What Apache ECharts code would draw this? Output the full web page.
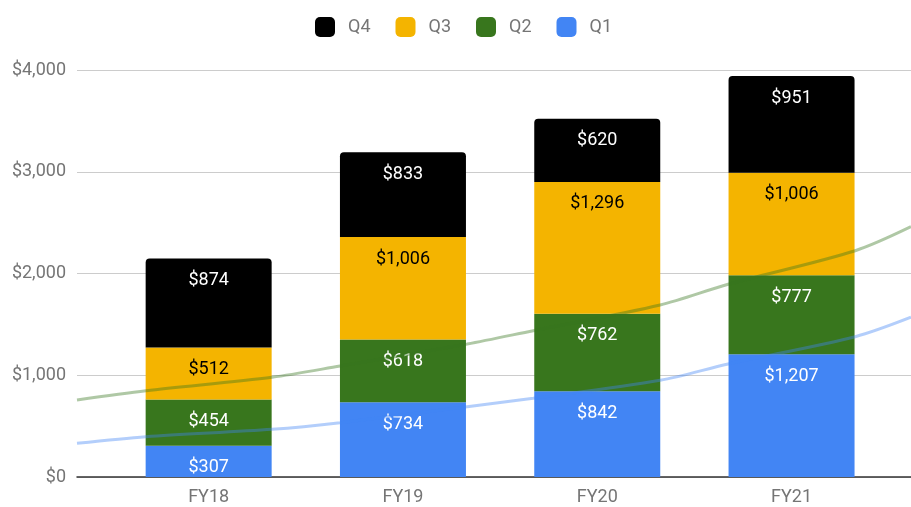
<!DOCTYPE html>
<html>
<head>
<meta charset="utf-8">
<script src="https://cdn.jsdelivr.net/npm/echarts@6/dist/echarts.min.js"></script>
<style>
  html, body { margin: 0; padding: 0; background: #fff; }
  #chart { width: 911px; height: 507px; }
</style>
</head>
<body>
<div id="chart"></div>
<script>
const categories = ['FY18', 'FY19', 'FY20', 'FY21'];
const q1 = [307, 734, 842, 1207];
const q2 = [454, 618, 762, 777];
const q3 = [512, 1006, 1296, 1006];
const q4 = [874, 833, 620, 951];

// trend lines, x in category-index units
const trendX = [-0.678, -0.323, 0.326, 0.676, 1.33, 1.67, 2.323, 2.673, 3.327, 3.614];
const trendQ2 = [757, 848, 980, 1091, 1307, 1438, 1690, 1894, 2224, 2460];
const trendQ1 = [331, 396, 469, 534, 691, 773, 950, 1111, 1379, 1570];

const yTicks = [0, 1000, 2000, 3000, 4000];

const money = v => '$' + v.toLocaleString('en-US');
const trendPairs = arr => arr.map((v, i) => [trendX[i], v]);

const chart = echarts.init(document.getElementById('chart'));

const barSeries = (name, data, color, labelColor, radius) => ({
  name: name,
  type: 'bar',
  stack: 'total',
  xAxisIndex: 1,
  yAxisIndex: 1,
  barWidth: 126,
  data: data,
  z: 2,
  itemStyle: { color: color, borderRadius: radius || 0 },
  label: {
    show: true,
    position: 'insideTop',
    distance: 13,
    color: labelColor,
    fontSize: 18,
    fontFamily: 'Roboto',
    formatter: p => money(p.value),
  },
});

const trendSeries = (name, data, color) => ({
  name: name,
  type: 'line',
  data: trendPairs(data),
  smooth: 0.3,
  symbol: 'none',
  silent: true,
  z: 5,
  lineStyle: { color: color, width: 3 },
});

const option = {
  animation: false,
  textStyle: { fontFamily: 'Roboto' },
  legend: {
    data: ['Q4', 'Q3', 'Q2', 'Q1'],
    left: 310,
    top: 12,
    icon: 'roundRect',
    itemWidth: 20,
    itemHeight: 20,
    itemGap: 25,
    textStyle: { fontSize: 18, color: '#757575', padding: [0, 0, 0, 8] },
  },
  grid: [
    { left: 77, right: 0, top: 70, bottom: 30 },
    { left: 111.5, right: 22.3, top: 70, bottom: 30 },
  ],
  xAxis: [
    {
      type: 'value',
      gridIndex: 0,
      min: trendX[0],
      max: trendX[trendX.length - 1],
      splitLine: { show: false },
      axisTick: { show: false },
      axisLabel: { show: false },
      axisLine: { show: true, onZero: true, lineStyle: { color: '#333', width: 1.5 } },
    },
    {
      type: 'category',
      gridIndex: 1,
      data: categories,
      axisLine: { show: false },
      axisTick: { show: false },
      axisLabel: { color: '#757575', fontSize: 18, margin: 11 },
    },
  ],
  yAxis: [
    {
      type: 'value',
      gridIndex: 0,
      min: yTicks[0],
      max: yTicks[yTicks.length - 1],
      interval: 1000,
      axisLine: { show: false },
      axisTick: { show: false },
      splitLine: { lineStyle: { color: '#cccccc' } },
      axisLabel: {
        formatter: v => money(v),
        color: '#757575',
        fontSize: 18,
        margin: 11,
      },
    },
    {
      type: 'value',
      gridIndex: 1,
      min: yTicks[0],
      max: yTicks[yTicks.length - 1],
      interval: 1000,
      show: false,
    },
  ],
  series: [
    barSeries('Q1', q1, '#4285F4', '#fff'),
    barSeries('Q2', q2, '#38761D', '#fff'),
    barSeries('Q3', q3, '#F4B400', '#000'),
    barSeries('Q4', q4, '#000000', '#fff', [4, 4, 0, 0]),
    trendSeries('Trend Q2', trendQ2, 'rgba(56,118,29,0.4)'),
    trendSeries('Trend Q1', trendQ1, 'rgba(66,133,244,0.4)'),
  ],
};

chart.setOption(option);
window.addEventListener('resize', () => chart.resize());
</script>
</body>
</html>
